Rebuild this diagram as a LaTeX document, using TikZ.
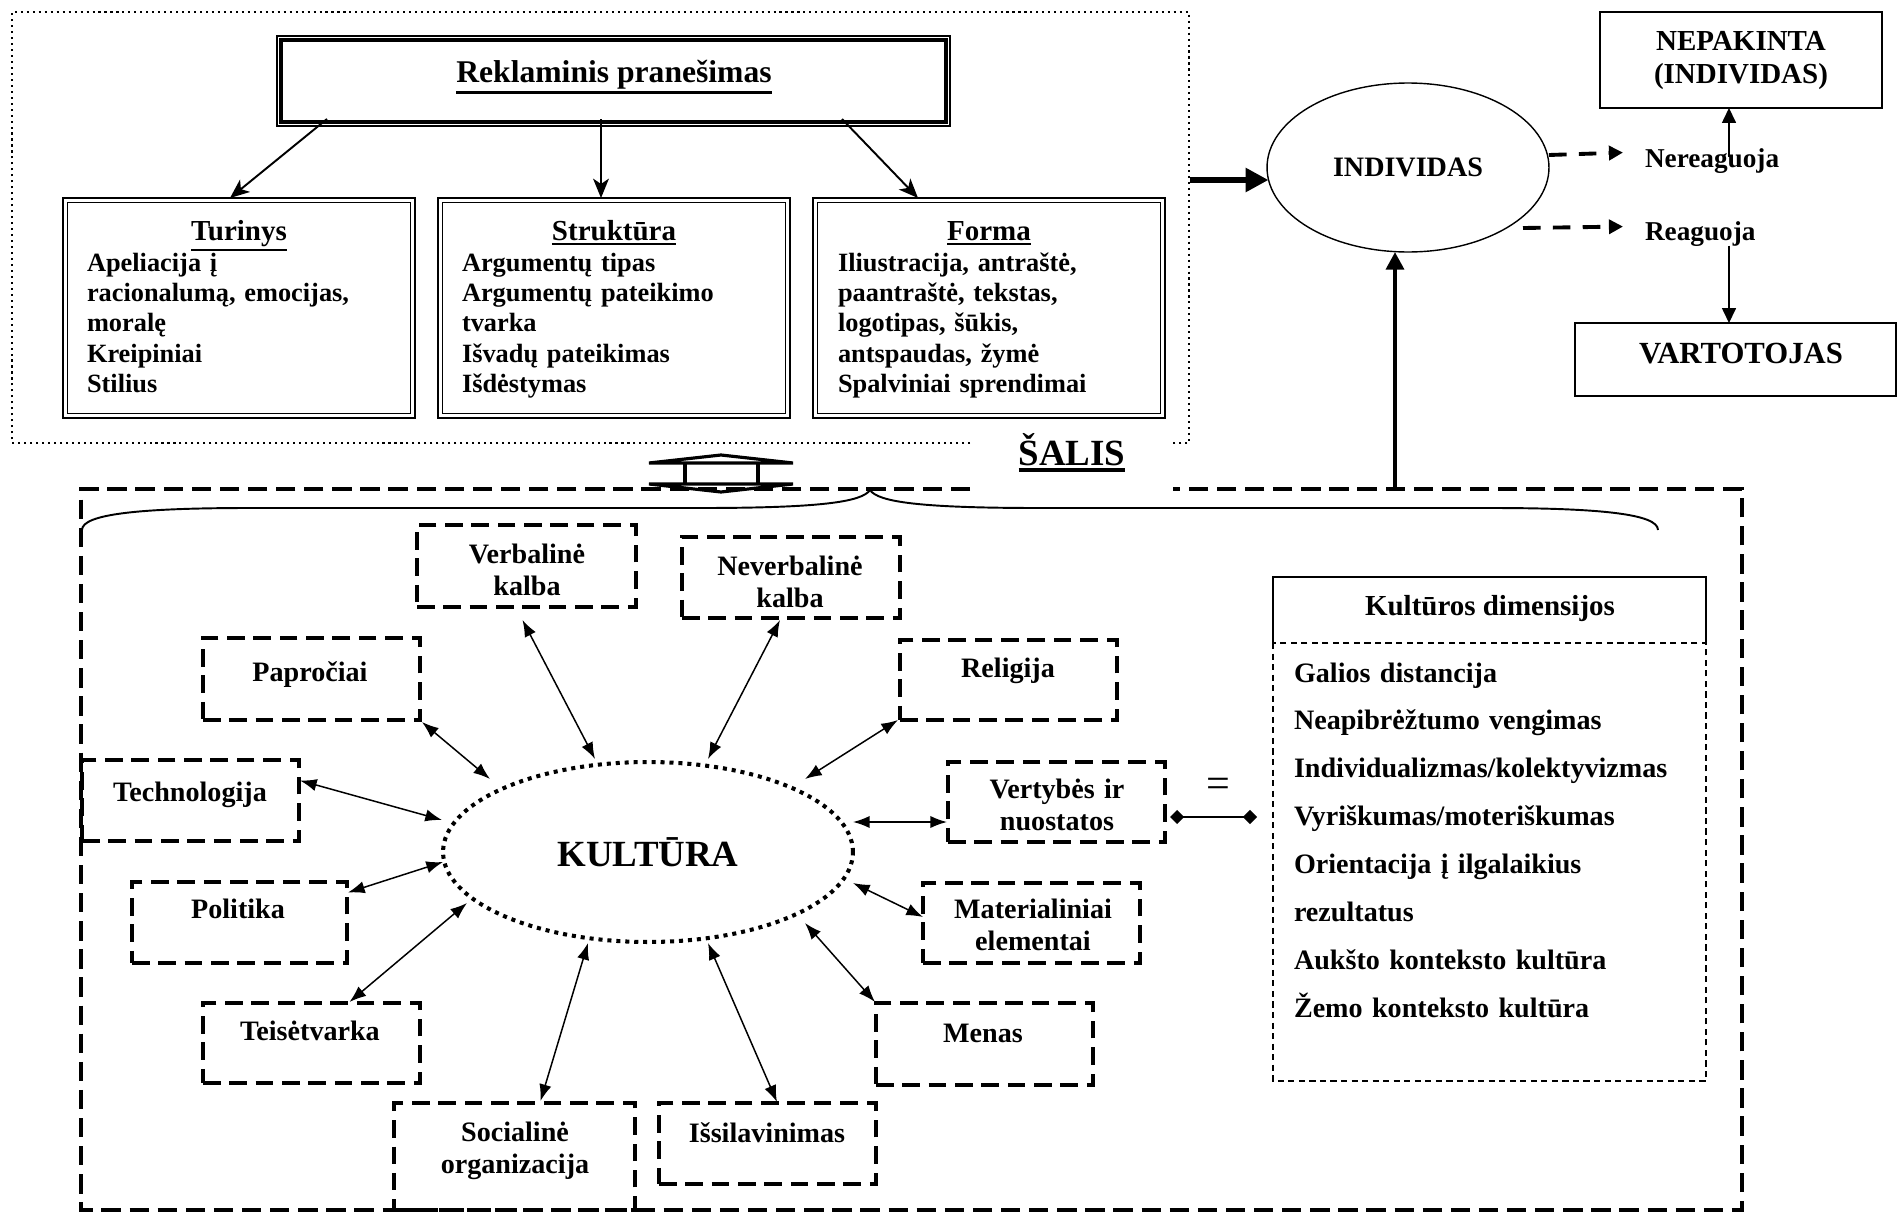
\documentclass[tikz,border=0pt]{standalone}
\usepackage{fontspec}
\setmainfont{Liberation Serif}
\usetikzlibrary{arrows.meta,calc,fit,shapes.geometric}
\newcommand\myul[2]{\leavevmode\vtop{\hbox{#2}\kern1.4pt\hrule height #1}}
\begin{document}
\begin{tikzpicture}[x=0.02cm,y=-0.02cm,
  every node/.style={inner sep=0pt,outer sep=0pt},
  fA/.style={font=\fontsize{15}{17.35}\selectfont\bfseries},
  fB/.style={font=\fontsize{16}{18.4}\selectfont\bfseries},
  fT/.style={font=\fontsize{16.5}{19}\selectfont\bfseries},
  fR/.style={font=\fontsize{18}{21}\selectfont\bfseries},
  fK/.style={font=\fontsize{21}{24}\selectfont\bfseries},
  fL/.style={font=\fontsize{16}{27.3}\selectfont\bfseries},
  fE/.style={font=\fontsize{24}{26}\selectfont},
  dblouter/.style={draw,line width=1.6pt},
  dblinner/.style={draw,line width=0.6pt},
  cbox/.style={draw,line width=1.9pt,dash pattern=on 10pt off 5pt},
  bigdash/.style={line width=1.9pt,dash pattern=on 11pt off 5pt},
  dotframe/.style={line width=1.2pt,dash pattern=on 1.2pt off 2.2pt},
  carr/.style={{Latex[length=9.5pt,width=7pt]}-{Latex[length=9.5pt,width=7pt]},line width=0.85pt},
  tarr/.style={-{Stealth[length=11pt,width=9pt,inset=3pt]},line width=1.1pt},
  darr/.style={-{Triangle[length=8pt,width=8pt]},line width=2.2pt,dash pattern=on 10pt off 7pt},
  sarr/.style={-{Triangle[length=8.5pt,width=8pt]},line width=0.7pt},
  ]
\useasboundingbox (0,0) rectangle (1898,1214);

% ---------- top dotted frame ----------
\draw[dotframe] (970,443) -- (12,443) -- (12,12) -- (1189,12) -- (1189,443) -- (1173,443);

% Reklaminis pranesimas
\node[fit={(277,36) (950,126)},draw,line width=0.7pt] (rekout) {};
\node[fit={(281,40) (946,122)},draw,line width=2.4pt] (rek) {};
\node[fR,anchor=base] (rekt) at (614,82) {\myul{1.8pt}{Reklaminis pranešimas}};

% three boxes
\node[fit={(63,198) (415,418)},dblouter] (tur) {};
\node[fit={(67.5,202.5) (410.5,413.5)},dblinner] (turin) {};
\node[fT,anchor=base] (turt) at (239,240) {\myul{1.5pt}{Turinys}};
\node[fA,anchor=base west,text width=7cm,align=left] (turb) at (87,271)
  {Apeliacija į\\racionalumą, emocijas,\\moralę\\Kreipiniai\\Stilius};

\node[fit={(438,198) (790,418)},dblouter] (str) {};
\node[fit={(442.5,202.5) (785.5,413.5)},dblinner] (strin) {};
\node[fT,anchor=base] (strt) at (614,240) {\myul{1.5pt}{Struktūra}};
\node[fA,anchor=base west,text width=7cm,align=left] (strb) at (462,271)
  {Argumentų tipas\\Argumentų pateikimo\\tvarka\\Išvadų pateikimas\\Išdėstymas};

\node[fit={(813,198) (1165,418)},dblouter] (form) {};
\node[fit={(817.5,202.5) (1160.5,413.5)},dblinner] (formin) {};
\node[fT,anchor=base] (formt) at (989,240) {\myul{1.5pt}{Forma}};
\node[fA,anchor=base west,text width=7cm,align=left] (formb) at (838,271)
  {Iliustracija, antraštė,\\paantraštė, tekstas,\\logotipas, šūkis,\\antspaudas, žymė\\Spalviniai sprendimai};

\draw[tarr] ($(rek.south)+(-286.5,-3)$) -- ($(tur.north)+(-9,0)$);
\draw[tarr] ($(rek.south)+(-12.5,-3)$) -- ($(str.north)+(-13,0)$);
\draw[tarr] ($(rek.south)+(228.5,-3)$) -- ($(form.north)+(-71,0)$);

\node[fK,anchor=base] (salis) at (1072,465) {\myul{2.2pt}{ŠALIS}};

% ---------- right part ----------
\node[ellipse,draw,line width=0.8pt,minimum width=5.64cm,minimum height=3.38cm,fB] (ind) at (1408,167.5) {INDIVIDAS};
\coordinate (topfr) at (1190,180);
\draw[line width=3.4pt,-{Triangle[length=13pt,width=13pt]}] (topfr) -- ($(ind.west)+(1.5,12.5)$);

\node[fB,font=\fontsize{15.5}{18}\selectfont\bfseries,anchor=base west] (nerea) at (1645,167) {Nereaguoja};
\node[fB,font=\fontsize{15.5}{18}\selectfont\bfseries,anchor=base west] (rea) at (1645,240) {Reaguoja};
\draw[darr] ($(ind.east)+(0,-12.5)$) -- ($(nerea.west)+(-22,-8)$);
\draw[darr] ($(ind.center)+(115,60.5)$) -- ($(rea.west)+(-22,-7)$);

\node[fit={(1600,12) (1882,108)},draw,line width=1.1pt] (nep) {};
\node[fT,anchor=base] (nept1) at (1741,50) {NEPAKINTA};
\node[fT,anchor=base] (nept2) at (1741,83) {(INDIVIDAS)};
\node[fit={(1575,323) (1896,396)},draw,line width=1.1pt] (vart) {};
\node[fR,font=\fontsize{17.5}{20}\selectfont\bfseries,anchor=base] (vartt) at (1741,363) {VARTOTOJAS};
\draw[sarr] ($(nerea.west)+(84,-4)$) -- ($(nep.south)+(-12,0)$);
\draw[sarr] ($(rea.west)+(84,12)$) -- ($(vart.north)+(-6.5,0)$);

% ---------- lower dashed frame ----------
\draw[bigdash] (970,489) -- (81,489) -- (81,1210) -- (1742,1210) -- (1742,489) -- (1173,489);
\coordinate (botfr) at (1395,489);
\draw[line width=2.8pt,-{Triangle[length=10pt,width=10pt]}] (botfr) -- ($(ind.south)+(-13,0)$);

% brace
\draw[line width=1.1pt] (82,530) .. controls (82,514) and (140,508) .. (250,508) -- (700,508)
  .. controls (820,508) and (862,502) .. (870,490) .. controls (878,502) and (920,508) .. (1040,508)
  -- (1490,508) .. controls (1600,508) and (1658,514) .. (1658,530);

% up-down block arrow
\draw[line width=1.8pt,line join=miter] (649,463) -- (721,455) -- (793,463) -- cycle;
\draw[line width=1.8pt,line join=miter] (649,484) -- (721,492) -- (793,484) -- cycle;
\draw[line width=1.8pt] (685,463) -- (685,484) (758,463) -- (758,484);

% ---------- culture ----------
\node[ellipse,draw,line width=2.3pt,dash pattern=on 2.3pt off 2.8pt,minimum width=8.2cm,minimum height=3.6cm] (kul) at (648,852) {};
\node[fK,anchor=base] (kult) at (648,866) {KULTŪRA};

\node[cbox,fit={(417,525) (636,607)}] (verb) {};
\node[fB,anchor=base,text width=5cm,align=center] (verbt) at (527,563) {Verbalinė\\kalba};
\node[cbox,fit={(682,537) (900,618)}] (never) {};
\node[fB,anchor=base,text width=5cm,align=center] (nevert) at (790,575) {Neverbalinė\\kalba};
\node[cbox,fit={(203,638) (420,720)}] (pap) {};
\node[fB,anchor=base] (papt) at (310,681) {Papročiai};
\node[cbox,fit={(900,640) (1117,720)}] (rel) {};
\node[fB,anchor=base] (relt) at (1008,677) {Religija};
\node[cbox,fit={(82,760) (299,841)}] (tech) {};
\node[fB,anchor=base] (techt) at (190,801) {Technologija};
\node[cbox,fit={(948,762) (1165,842)}] (vert) {};
\node[fB,anchor=base,text width=5cm,align=center] (vertt) at (1057,798) {Vertybės ir\\nuostatos};
\node[cbox,fit={(132,882) (347,963)}] (pol) {};
\node[fB,anchor=base] (polt) at (238,918) {Politika};
\node[cbox,fit={(923,883) (1140,963)}] (mat) {};
\node[fB,anchor=base,text width=5cm,align=center] (matt) at (1033,918) {Materialiniai\\elementai};
\node[cbox,fit={(203,1003) (420,1083)}] (teis) {};
\node[fB,anchor=base] (teist) at (310,1040) {Teisėtvarka};
\node[cbox,fit={(876,1003) (1093,1085)}] (menas) {};
\node[fB,anchor=base] (menast) at (983,1042) {Menas};
\node[cbox,fit={(659,1103) (876,1184)}] (isil) {};
\node[fB,anchor=base] (isilt) at (767,1142) {Išsilavinimas};
\node[cbox,fit={(394,1103) (635,1210)}] (soc) {};
\node[fB,anchor=base,text width=5cm,align=center] (soct) at (515,1141) {Socialinė\\organizacija};

\draw[carr] ($(verb.south)+(-4,13)$) -- ($(kul.center)+(-53,-93)$);
\draw[carr] ($(never.south)+(-11,2)$) -- ($(kul.center)+(60,-93)$);
\draw[carr] ($(pap.south east)+(2,2)$) -- ($(kul.center)+(-158,-73)$);
\draw[carr] ($(rel.south west)+(-2,0)$) -- ($(kul.center)+(157,-73)$);
\draw[carr] ($(tech.east)+(1,-20)$) -- ($(kul.center)+(-206,-32)$);
\draw[carr] ($(vert.west)+(-1,20)$) -- ($(kul.center)+(205,-30)$);
\draw[carr] ($(pol.east)+(1,-30)$) -- ($(kul.center)+(-205,10)$);
\draw[carr] ($(mat.west)+(0,-6)$) -- ($(kul.center)+(205,31)$);
\draw[carr] ($(teis.north)+(38,-1)$) -- ($(kul.center)+(-181,51)$);
\draw[carr] ($(menas.north west)+(-1,-1)$) -- ($(kul.center)+(157,71)$);
\draw[carr] ($(soc.north)+(26,-2)$) -- ($(kul.center)+(-60,91)$);
\draw[carr] ($(isil.north)+(9.5,-1)$) -- ($(kul.center)+(60,91)$);

% ---------- Kulturos dimensijos ----------
\node[fit={(1273,577) (1706,1081)}] (kdb) {};
\draw[line width=0.9pt] (1273,643) -- (1273,577) -- (1706,577) -- (1706,643);
\draw[line width=0.8pt,dash pattern=on 3.5pt off 2.5pt] (1273,643) rectangle (1706,1081);
\node[fT,anchor=base] (kdt) at (1490,615) {Kultūros dimensijos};
\node[fL,anchor=base west,text width=8.2cm,align=left] (kdl) at (1294,682)
  {Galios distancija\\Neapibrėžtumo vengimas\\Individualizmas/kolektyvizmas\\Vyriškumas/moteriškumas\\Orientacija į ilgalaikius\\rezultatus\\Aukšto konteksto kultūra\\Žemo konteksto kultūra};

\draw[line width=1.3pt,{Diamond[length=8pt,width=8pt]}-{Diamond[length=8pt,width=8pt]}] ($(vert.east)+(5,15)$) -- ($(kdb.west)+(-16,-12)$);
\node[fE,anchor=center] (eq) at (1218,788) {=};
\end{tikzpicture}
\end{document}
